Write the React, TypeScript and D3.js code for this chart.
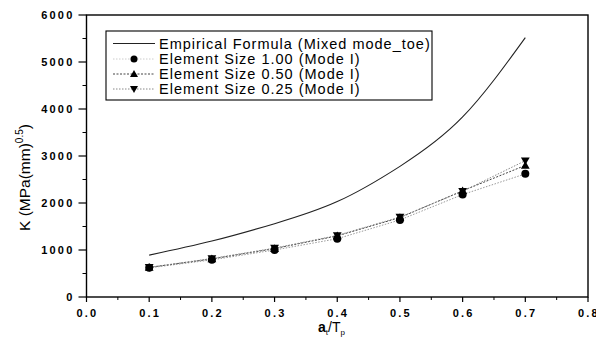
import React from "react";
import * as d3 from "d3";

const xValues = [0.1, 0.2, 0.3, 0.4, 0.5, 0.6, 0.7];
const empirical = [890, 1190, 1560, 2030, 2780, 3830, 5520];
const size100 = [620, 790, 1000, 1240, 1640, 2180, 2620];
const size050 = [630, 810, 1030, 1300, 1690, 2260, 2800];
const size025 = [630, 820, 1040, 1310, 1700, 2250, 2900];
const xTicks = [0, 0.1, 0.2, 0.3, 0.4, 0.5, 0.6, 0.7, 0.8];
const yTicks = [0, 1000, 2000, 3000, 4000, 5000, 6000];
const legendLabels = [
  "Empirical Formula (Mixed mode_toe)",
  "Element Size 1.00 (Mode I)",
  "Element Size 0.50 (Mode I)",
  "Element Size 0.25 (Mode I)",
];

const W = 596;
const H = 347;
const L = 86.5, R = 588, T = 15, B = 297;

export default function App() {
  const x = d3.scaleLinear().domain([0, 0.8]).range([L, R]);
  const y = d3.scaleLinear().domain([0, 6000]).range([B, T]);
  const line = d3
    .line<[number, number]>()
    .x((d) => x(d[0]))
    .y((d) => y(d[1]));
  const curveLine = d3
    .line<[number, number]>()
    .x((d) => x(d[0]))
    .y((d) => y(d[1]))
    .curve(d3.curveNatural);
  const pts = (vals: number[]) => xValues.map((v, i) => [v, vals[i]] as [number, number]);

  const tri = (cx: number, cy: number, up: boolean, s = 4.4) =>
    up
      ? `M${cx},${cy - s} L${cx + s},${cy + s * 0.75} L${cx - s},${cy + s * 0.75} Z`
      : `M${cx},${cy + s} L${cx + s},${cy - s * 0.75} L${cx - s},${cy - s * 0.75} Z`;

  const minorY = d3.range(500, 6000, 1000);
  const minorX = d3.range(0.05, 0.8, 0.1);
  const tickFont = { fontFamily: "Liberation Sans, Arial, sans-serif", fontWeight: 700, fontSize: 11, letterSpacing: 2.2 } as const;
  const legFont = { fontFamily: "Liberation Sans, Arial, sans-serif", fontSize: 14.5, letterSpacing: 1.0 } as const;
  const legRows = [43.5, 59, 74, 89];

  return (
    <svg width={W} height={H} style={{ position: "absolute", left: 0, top: 0, background: "#fff" }}>
      <rect x={0} y={0} width={W} height={H} fill="#fff" />
      {/* series lines */}
      <path d={curveLine(pts(empirical)) || ""} fill="none" stroke="#222" strokeWidth={1.1} />
      <path d={line(pts(size100)) || ""} fill="none" stroke="#999" strokeWidth={1} strokeDasharray="1.5,1.5" />
      <path d={line(pts(size050)) || ""} fill="none" stroke="#444" strokeWidth={1} strokeDasharray="2,1.5" />
      <path d={line(pts(size025)) || ""} fill="none" stroke="#888" strokeWidth={1} strokeDasharray="1.5,1.5" />
      {/* markers */}
      {xValues.map((v, i) => (
        <g key={"m" + i} fill="#000">
          <circle cx={x(v)} cy={y(size100[i])} r={4} />
          <path d={tri(x(v), y(size050[i]), true)} />
          <path d={tri(x(v), y(size025[i]), false)} />
        </g>
      ))}
      {/* frame */}
      <rect x={L} y={T} width={R - L} height={B - T} fill="none" stroke="#000" strokeWidth={1.4} />
      {/* y ticks */}
      {yTicks.map((t) => (
        <g key={"yt" + t}>
          <line x1={L - 8} x2={L} y1={y(t)} y2={y(t)} stroke="#000" strokeWidth={1.2} />
          <text x={L - 12} y={y(t) + 4} textAnchor="end" style={tickFont}>
            {t}
          </text>
        </g>
      ))}
      {minorY.map((t) => (
        <line key={"ym" + t} x1={L - 4} x2={L} y1={y(t)} y2={y(t)} stroke="#000" strokeWidth={1} />
      ))}
      {/* x ticks */}
      {xTicks.map((t) => (
        <g key={"xt" + t}>
          <line x1={x(t)} x2={x(t)} y1={B} y2={B + 5} stroke="#000" strokeWidth={1.2} />
          <text x={x(t) + 1} y={316.5} textAnchor="middle" style={tickFont}>
            {t.toFixed(1)}
          </text>
        </g>
      ))}
      {minorX.map((t) => (
        <line key={"xm" + t} x1={x(t)} x2={x(t)} y1={B} y2={B + 3} stroke="#000" strokeWidth={1} />
      ))}
      {/* axis titles */}
      <text x={318} y={332} style={{ fontFamily: "Liberation Sans, Arial, sans-serif", fontWeight: 700, fontSize: 14 }}>
        a
        <tspan fontSize={8} dy={3} fontWeight={400}>t</tspan>
        <tspan dy={-3} fontWeight={400}>/T</tspan>
        <tspan fontSize={8} dy={3} fontWeight={400}>p</tspan>
      </text>
      <text
        transform="translate(30,231) rotate(-90)"
        style={{ fontFamily: "Liberation Sans, Arial, sans-serif", fontSize: 15.5 }}
      >
        K (MPa(mm)
        <tspan fontSize={10} dy={-7}>0.5</tspan>
        <tspan dy={7}>)</tspan>
      </text>
      {/* legend */}
      <rect x={106} y={31} width={326} height={69} fill="#fff" stroke="#000" strokeWidth={1.1} />
      <line x1={113} x2={155} y1={legRows[0]} y2={legRows[0]} stroke="#222" strokeWidth={1.1} />
      <line x1={113} x2={155} y1={legRows[1]} y2={legRows[1]} stroke="#ccc" strokeWidth={1} strokeDasharray="1.5,1.5" />
      <circle cx={134} cy={legRows[1]} r={3.5} fill="#000" />
      <line x1={113} x2={155} y1={legRows[2]} y2={legRows[2]} stroke="#444" strokeWidth={1} strokeDasharray="2,1.5" />
      <path d={tri(134, legRows[2], true, 4)} fill="#000" />
      <line x1={113} x2={155} y1={legRows[3]} y2={legRows[3]} stroke="#888" strokeWidth={1} strokeDasharray="1.5,1.5" />
      <path d={tri(134, legRows[3], false, 4)} fill="#000" />
      {legendLabels.map((l, i) => (
        <text key={l} x={159} y={legRows[i] + 5} style={legFont}>
          {l}
        </text>
      ))}
    </svg>
  );
}
